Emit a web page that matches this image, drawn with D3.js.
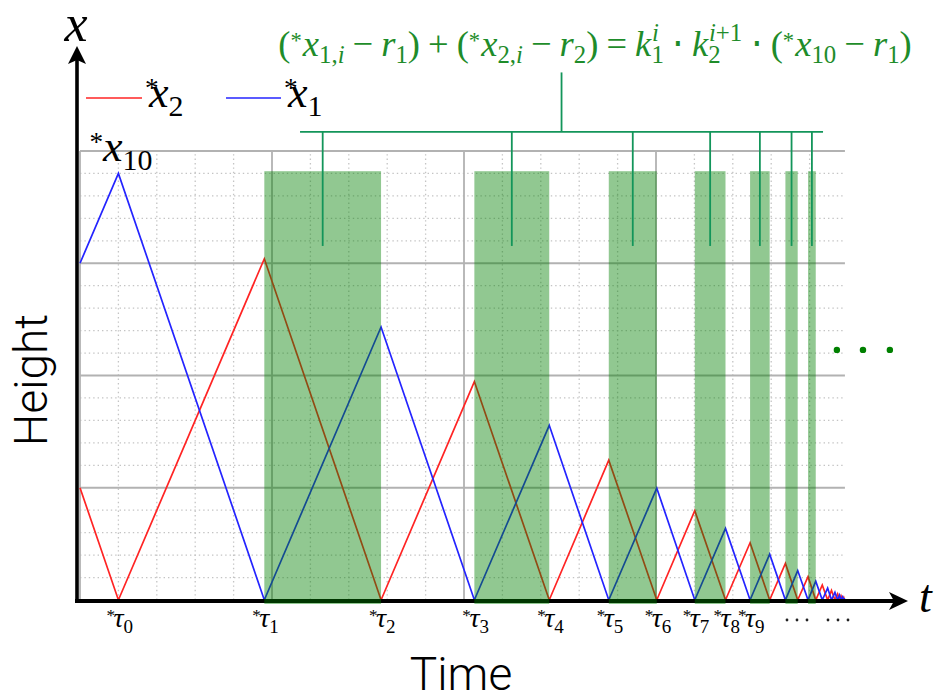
<!DOCTYPE html>
<html>
<head>
<meta charset="utf-8">
<script src="https://cdn.jsdelivr.net/npm/d3@7"></script>
</head>
<body style="margin:0">
<svg id="fig" width="944" height="698"></svg>
<script>
// ---- data -------------------------------------------------------------
// switching instants *τ0, *τ1, ... (grid units along t)
const switchTimes = [1, 4.8, 7.84, 10.27, 12.22, 13.77, 15.02, 16.01, 16.81, 17.45,
  17.96, 18.37, 18.69, 18.96, 19.16, 19.33, 19.47, 19.57, 19.66, 19.73,
  19.78, 19.82, 19.86, 19.89, 19.91];
// opening segments before *τ0
const x1Start = [[0, 15], [1, 19]];
const x2Start = [[0, 5], [1, 0]];
// peak heights: *x1 peaks at *τ2, *τ4, ... ; *x2 peaks at *τ1, *τ3, ...
const x1Peaks = [12.16, 7.78, 4.98, 3.19, 2.04, 1.31, 0.84, 0.53, 0.34, 0.22, 0.14, 0.09];
const x2Peaks = [15.2, 9.73, 6.23, 3.98, 2.55, 1.63, 1.04, 0.67, 0.43, 0.27, 0.18, 0.11];
// shaded intervals [*τa, *τb] (indices into switchTimes)
const bandPairs = [[1, 2], [3, 4], [5, 6], [7, 8], [9, 10], [11, 12], [13, 14]];
const bandTop = 19.1;
// labelled instants
const tauLabels = ["0", "1", "2", "3", "4", "5", "6", "7", "8", "9"];
const peakLabelX = 1;

// ---- build trajectories -------------------------------------------------
const x1Pts = x1Start.slice(), x2Pts = x2Start.slice();
for (let k = 1; k < switchTimes.length; k++) {
  const t = switchTimes[k];
  if (k % 2 === 1) { x1Pts.push([t, 0]); x2Pts.push([t, x2Peaks[(k - 1) / 2]]); }
  else { x1Pts.push([t, x1Peaks[k / 2 - 1]]); x2Pts.push([t, 0]); }
}

// ---- scales -------------------------------------------------------------
const x = d3.scaleLinear().domain([0, 20]).range([80, 848]);
const y = d3.scaleLinear().domain([0, 20]).range([600, 151]);
const gridRight = 19.92;

const svg = d3.select("#fig");
const MATH = "Liberation Serif";
const SANS = "Roboto";

// ---- grid ---------------------------------------------------------------
const grid = svg.append("g");
d3.range(1, 20).filter(v => v % 5 !== 0).forEach(v => {
  grid.append("line").attr("x1", x(v)).attr("x2", x(v)).attr("y1", y(0)).attr("y2", y(20))
    .attr("stroke", "#c4c4c4").attr("stroke-width", 1.3).attr("stroke-dasharray", "1.4,3");
  grid.append("line").attr("x1", x(0)).attr("x2", x(gridRight)).attr("y1", y(v)).attr("y2", y(v))
    .attr("stroke", "#c4c4c4").attr("stroke-width", 1.3).attr("stroke-dasharray", "1.4,3");
});
[0, 5, 10, 15].forEach(v => {
  grid.append("line").attr("x1", x(v)).attr("x2", x(v)).attr("y1", y(0)).attr("y2", y(20))
    .attr("stroke", "#b2b2b2").attr("stroke-width", 1.8);
});
[5, 10, 15, 20].forEach(v => {
  grid.append("line").attr("x1", x(0)).attr("x2", x(gridRight)).attr("y1", y(v)).attr("y2", y(v))
    .attr("stroke", "#b2b2b2").attr("stroke-width", 1.8);
});

// ---- trajectories -------------------------------------------------------
const line = d3.line().x(d => x(d[0])).y(d => y(d[1]));
svg.append("path").datum(x2Pts).attr("d", line).attr("fill", "none")
  .attr("stroke", "#ff2424").attr("stroke-width", 1.7);
svg.append("path").datum(x1Pts).attr("d", line).attr("fill", "none")
  .attr("stroke", "#2424ff").attr("stroke-width", 1.7);

// ---- axes ---------------------------------------------------------------
const axes = svg.append("g");
axes.append("line").attr("x1", 77).attr("x2", 77).attr("y1", y(0) + 3).attr("y2", 60)
  .attr("stroke", "#000").attr("stroke-width", 3.6);
axes.append("path").attr("d", "M77,46 L68,64 L77,60 L86,64 Z").attr("fill", "#000");
axes.append("line").attr("x1", 75).attr("x2", 894).attr("y1", y(0) + 1).attr("y2", y(0) + 1)
  .attr("stroke", "#000").attr("stroke-width", 3.8);
axes.append("path").attr("d", `M908,${y(0) + 1} L889,${y(0) - 8} L894,${y(0) + 1} L889,${y(0) + 10} Z`)
  .attr("fill", "#000");

// ---- shaded intervals ---------------------------------------------------
svg.append("g").selectAll("rect").data(bandPairs).join("rect")
  .attr("x", d => x(switchTimes[d[0]]))
  .attr("width", d => x(switchTimes[d[1]]) - x(switchTimes[d[0]]))
  .attr("y", y(bandTop))
  .attr("height", y(0) + 4 - y(bandTop))
  .attr("fill", "#008000").attr("fill-opacity", 0.43);

// ---- math text: one <text> per expression, pieces as tspans ---------------
// token: {p: [[text, italic], ...], lvl: "n"|"sub"|"sup"|"star", dx (em), after (em)}
function mathText(parent, tokens, size) {
  const t = parent.append("text").attr("font-family", MATH).attr("font-size", size);
  let cur = 0, carry = 0;
  tokens.forEach(tk => {
    const lvl = tk.lvl || "n";
    const fs = lvl === "n" ? size : lvl === "star" ? size * 0.62 : size * 0.68;
    const off = lvl === "sub" ? size * 0.2 : lvl === "sup" ? -size * 0.42 : lvl === "star" ? -size * 0.22 : 0;
    tk.p.forEach(([s, it], j) => {
      const sp = t.append("tspan").attr("font-size", fs)
        .attr("font-style", it ? "italic" : "normal").text(s);
      if (j === 0) {
        sp.attr("dy", off - cur);
        const dx = (tk.dx || 0) * size + carry;
        if (dx) sp.attr("dx", dx);
        carry = 0;
      }
    });
    cur = off;
    carry = (tk.after || 0) * size;
  });
  return t;
}
const N = s => ({ p: [[s, false]] });
const I = s => ({ p: [[s, true]] });
const SUB = s => ({ p: [[s, false]], lvl: "sub" });
const STAR = (dx = 0, after = 0) => ({ p: [["*", false]], lvl: "star", dx, after });
const OP = s => ({ p: [[s, false]], dx: 0.22, after: 0.22 });

// ---- formula and bracket -------------------------------------------------
const green = "#1e8c2a", bracketGreen = "#13955a";
const formulaTokens = [
  N("("), STAR(0, 0.03), I("x"), { p: [["1,", false], ["i", true]], lvl: "sub" }, OP("\u2212"), I("r"), SUB("1"), N(")"),
  OP("+"),
  N("("), STAR(0, 0.03), I("x"), { p: [["2,", false], ["i", true]], lvl: "sub" }, OP("\u2212"), I("r"), SUB("2"), N(")"),
  OP("="),
  I("k"), { p: [["i", true]], lvl: "sup", dx: 0.02 }, { p: [["1", false]], lvl: "sub", dx: -0.2 },
  OP("\u22C5"),
  I("k"), { p: [["i", true], ["+1", false]], lvl: "sup", dx: 0.02 }, { p: [["2", false]], lvl: "sub", dx: -0.93, after: 0.6 },
  OP("\u22C5"),
  N("("), STAR(0, 0.03), I("x"), SUB("10"), OP("\u2212"), I("r"), SUB("1"), N(")")
];
mathText(svg, formulaTokens, 36.5).attr("x", 595).attr("y", 56)
  .attr("text-anchor", "middle").attr("fill", green);

const bracket = svg.append("g").attr("stroke", bracketGreen).attr("stroke-width", 1.8).attr("fill", "none");
const bracketL = 5.73, bracketR = 19.35, bracketY = 20.85, stubTop = 23.5, dropBottom = 15.77;
bracket.append("line").attr("x1", x(bracketL)).attr("x2", x(bracketR)).attr("y1", y(bracketY)).attr("y2", y(bracketY));
bracket.append("line").attr("x1", x((bracketL + bracketR) / 2)).attr("x2", x((bracketL + bracketR) / 2))
  .attr("y1", y(stubTop)).attr("y2", y(bracketY));
bracket.selectAll("line.drop").data(bandPairs).join("line").attr("class", "drop")
  .attr("x1", d => (x(switchTimes[d[0]]) + x(switchTimes[d[1]])) / 2)
  .attr("x2", d => (x(switchTimes[d[0]]) + x(switchTimes[d[1]])) / 2)
  .attr("y1", y(bracketY)).attr("y2", y(dropBottom));

// continuation dots
svg.append("g").selectAll("circle").data([19.71, 20.39, 21.09]).join("circle")
  .attr("cx", d => x(d)).attr("cy", y(11.14)).attr("r", 3.2).attr("fill", "#008000");

// ---- legend ------------------------------------------------------------
const legend = [
  { color: "#ff2424", sub: "2", x0: 86, x1: 142 },
  { color: "#2424ff", sub: "1", x0: 226, x1: 281 }
];
legend.forEach(d => {
  svg.append("line").attr("x1", d.x0).attr("x2", d.x1).attr("y1", 98).attr("y2", 98)
    .attr("stroke", d.color).attr("stroke-width", 1.7);
  mathText(svg, [STAR(0, -0.22), I("x"), SUB(d.sub)], 44)
    .attr("x", d.x1 + 3).attr("y", 107).attr("fill", "#000");
});

// peak label
mathText(svg, [STAR(0, 0.0), I("x"), SUB("10")], 44)
  .attr("x", x(peakLabelX) - 29).attr("y", 161).attr("fill", "#000");

// ---- τ labels --------------------------------------------------------
tauLabels.forEach((s, i) => {
  mathText(svg, [STAR(0, -0.06), I("\u03C4"), SUB(s)], 28)
    .attr("x", x(switchTimes[i]) - 12).attr("y", 627).attr("fill", "#000");
});
// trailing ellipses under the accumulation point
svg.append("g").selectAll("circle").data([787, 797, 807, 828, 838, 848]).join("circle")
  .attr("cx", d => d).attr("cy", 620).attr("r", 1.4).attr("fill", "#222");

// ---- axis titles -------------------------------------------------------
svg.append("text").attr("font-family", MATH).attr("x", 76).attr("y", 41).attr("text-anchor", "middle")
  .attr("font-style", "italic").attr("font-size", 52).text("x");
svg.append("text").attr("font-family", MATH).attr("x", 919).attr("y", 612)
  .attr("font-style", "italic").attr("font-size", 46).text("t");
svg.append("text").attr("font-family", SANS).attr("transform", "translate(47,380) rotate(-90)")
  .attr("text-anchor", "middle").attr("font-weight", 300).attr("font-size", 46).text("Height");
svg.append("text").attr("font-family", SANS).attr("x", 461).attr("y", 690).attr("text-anchor", "middle")
  .attr("font-weight", 300).attr("font-size", 46).text("Time");
</script>
</body>
</html>
